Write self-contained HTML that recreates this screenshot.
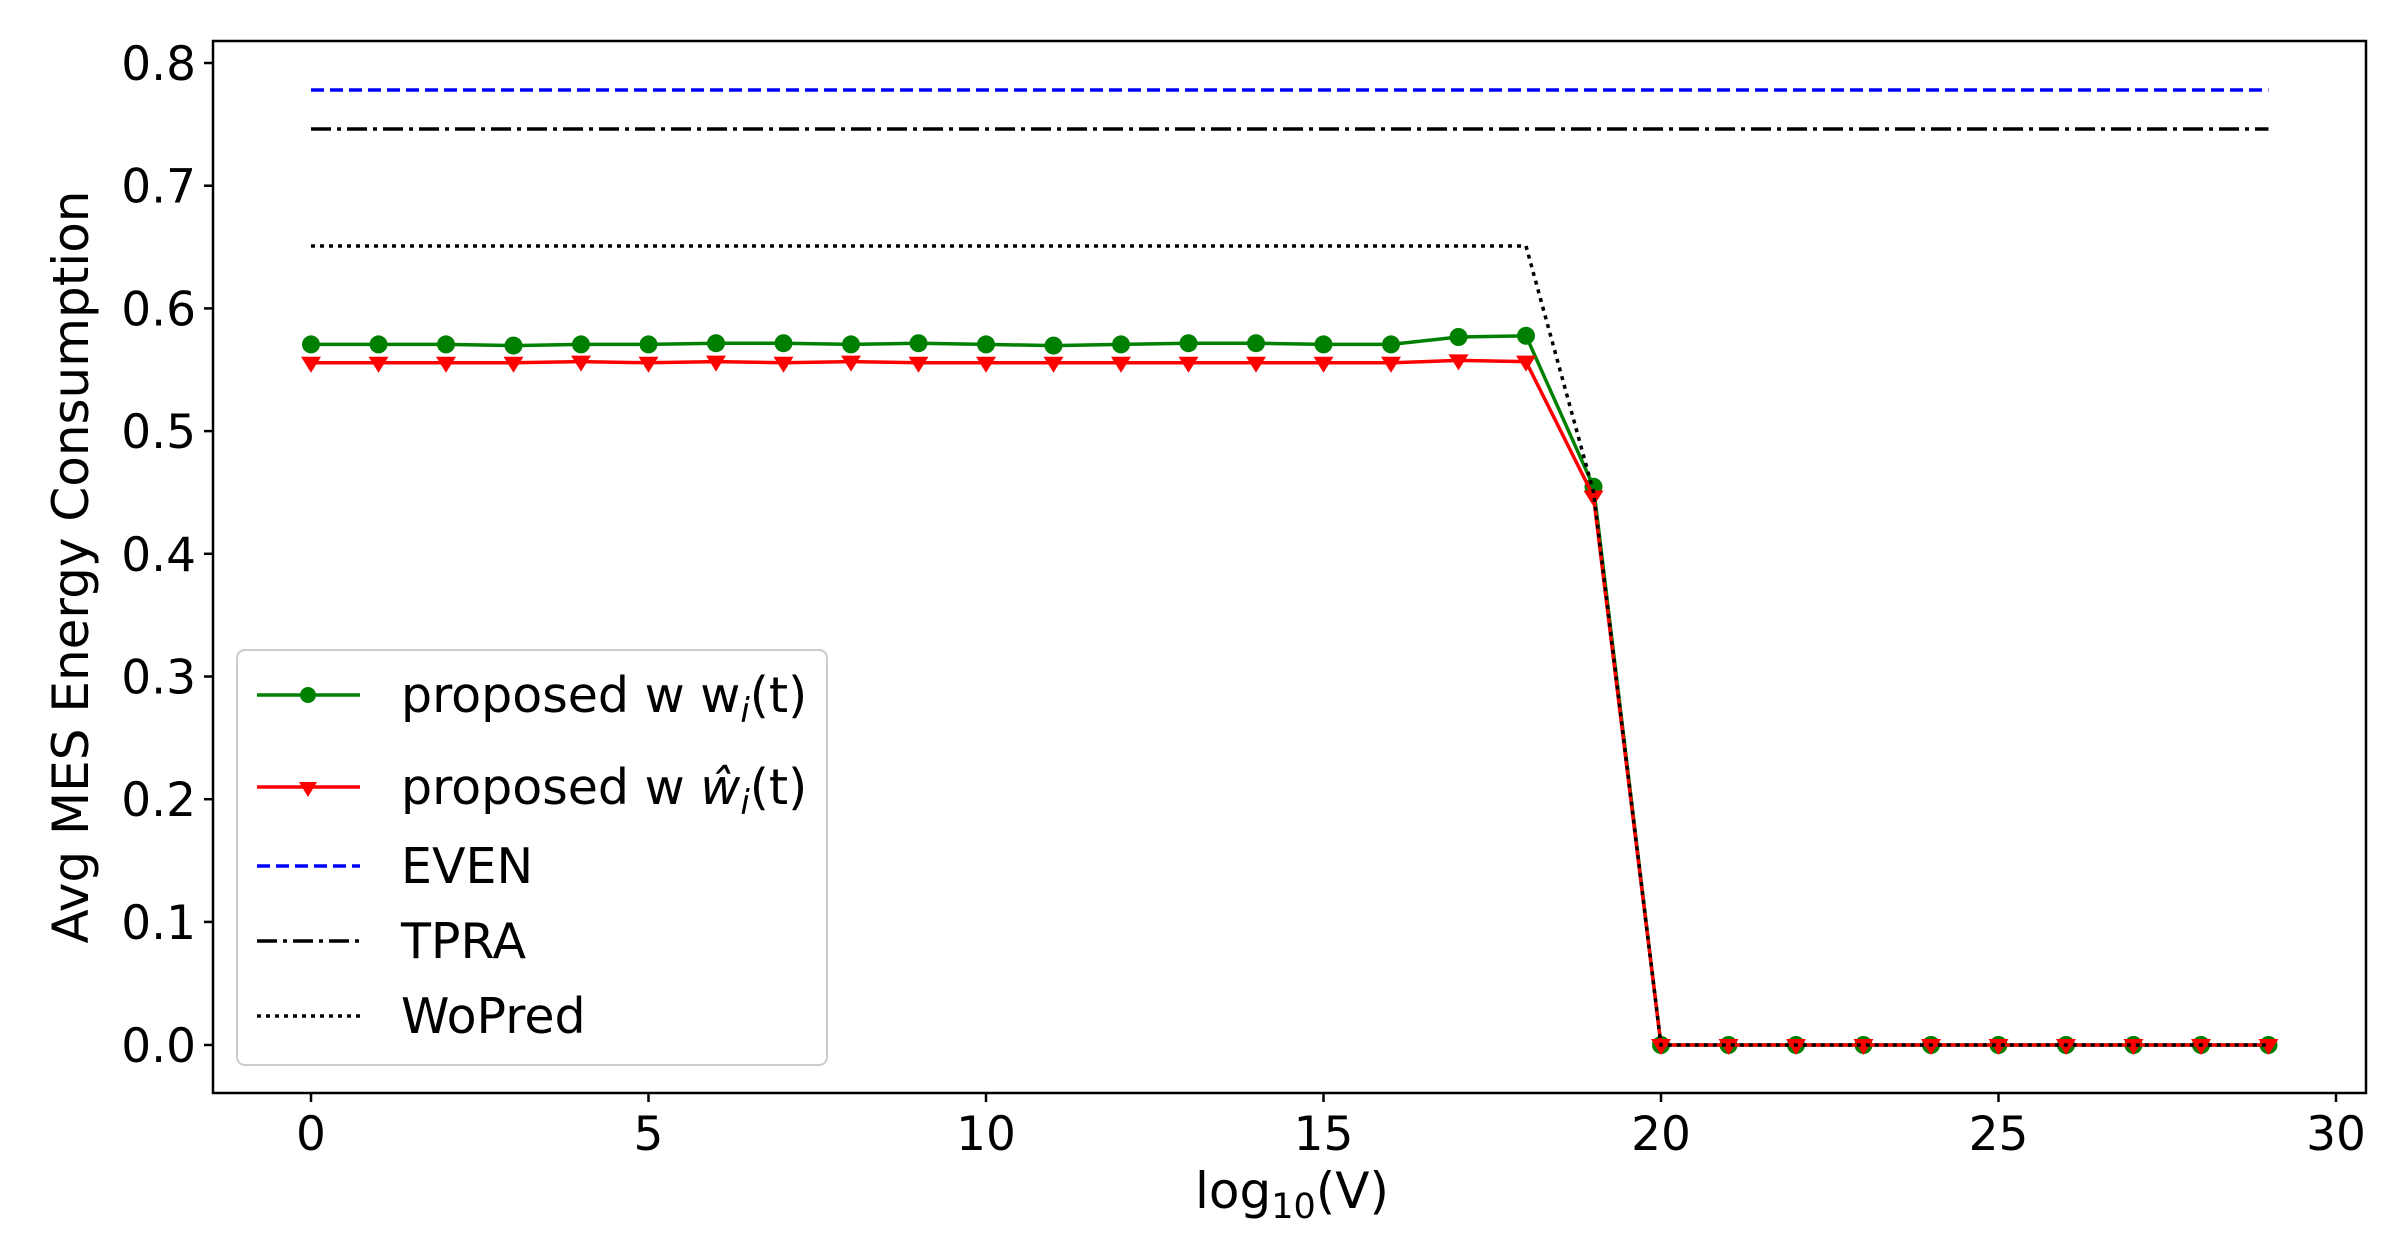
<!DOCTYPE html>
<html><head><meta charset="utf-8"><style>
html,body{margin:0;padding:0;background:#fff;}
svg{display:block;}
text{font-family:"DejaVu Sans","Liberation Sans",sans-serif;fill:#000;}
</style></head><body>
<svg width="2400" height="1258" viewBox="0 0 2400 1258" xmlns="http://www.w3.org/2000/svg">
<defs>
<marker id="mc" markerUnits="userSpaceOnUse" markerWidth="20" markerHeight="20" refX="10" refY="10" orient="0" overflow="visible"><circle cx="10" cy="10" r="9" fill="#008000"/></marker>
<marker id="mt" markerUnits="userSpaceOnUse" markerWidth="20" markerHeight="20" refX="10" refY="10" orient="0" overflow="visible"><polygon points="0,4 20,4 10,20" fill="#ff0000"/></marker>
</defs>
<rect width="2400" height="1258" fill="#fff"/>
<rect x="213" y="41" width="2153" height="1052" fill="none" stroke="#000" stroke-width="2.5"/>
<g stroke="#000" stroke-width="2.5">
<line x1="204" x2="213" y1="63" y2="63"/><line x1="204" x2="213" y1="185.7" y2="185.7"/>
<line x1="204" x2="213" y1="308.4" y2="308.4"/><line x1="204" x2="213" y1="431.1" y2="431.1"/>
<line x1="204" x2="213" y1="553.8" y2="553.8"/><line x1="204" x2="213" y1="676.5" y2="676.5"/>
<line x1="204" x2="213" y1="799.2" y2="799.2"/><line x1="204" x2="213" y1="921.9" y2="921.9"/>
<line x1="204" x2="213" y1="1045" y2="1045"/>
<line x1="311" x2="311" y1="1093" y2="1102"/><line x1="648.5" x2="648.5" y1="1093" y2="1102"/>
<line x1="986" x2="986" y1="1093" y2="1102"/><line x1="1323.5" x2="1323.5" y1="1093" y2="1102"/>
<line x1="1661" x2="1661" y1="1093" y2="1102"/><line x1="1998.5" x2="1998.5" y1="1093" y2="1102"/>
<line x1="2336" x2="2336" y1="1093" y2="1102"/>
</g>
<g font-size="47" text-anchor="end">
<text x="196" y="80">0.8</text><text x="196" y="202.7">0.7</text><text x="196" y="325.4">0.6</text>
<text x="196" y="448.1">0.5</text><text x="196" y="570.8">0.4</text><text x="196" y="693.5">0.3</text>
<text x="196" y="816.2">0.2</text><text x="196" y="938.9">0.1</text><text x="196" y="1062">0.0</text>
</g>
<g font-size="47" text-anchor="middle">
<text x="311" y="1150">0</text><text x="648.5" y="1150">5</text><text x="986" y="1150">10</text>
<text x="1323.5" y="1150">15</text><text x="1661" y="1150">20</text><text x="1998.5" y="1150">25</text>
<text x="2336" y="1150">30</text>
<text x="1292" y="1208" font-size="50">log<tspan font-size="35" dy="10">10</tspan><tspan dy="-10">(V)</tspan></text>
<text transform="translate(88,567) rotate(-90)" font-size="50">Avg MES Energy Consumption</text>
</g>
<polyline fill="none" stroke="#008000" stroke-width="3.5" marker-start="url(#mc)" marker-mid="url(#mc)" marker-end="url(#mc)" points="311,344.4 378.5,344.4 446,344.4 513.5,345.6 581,344.4 648.5,344.4 716,343.2 783.5,343.2 851,344.4 918.5,343.2 986,344.4 1053.5,345.6 1121,344.4 1188.5,343.2 1256,343.2 1323.5,344.4 1391,344.4 1458.5,337 1526,335.8 1593.5,486.7 1661,1045 1728.5,1045 1796,1045 1863.5,1045 1931,1045 1998.5,1045 2066,1045 2133.5,1045 2201,1045 2268.5,1045"/>
<polyline fill="none" stroke="#ff0000" stroke-width="3.5" marker-start="url(#mt)" marker-mid="url(#mt)" marker-end="url(#mt)" points="311,362.8 378.5,362.8 446,362.8 513.5,362.8 581,361.6 648.5,362.8 716,361.6 783.5,362.8 851,361.6 918.5,362.8 986,362.8 1053.5,362.8 1121,362.8 1188.5,362.8 1256,362.8 1323.5,362.8 1391,362.8 1458.5,360.4 1526,361.6 1593.5,496.5 1661,1045 1728.5,1045 1796,1045 1863.5,1045 1931,1045 1998.5,1045 2066,1045 2133.5,1045 2201,1045 2268.5,1045"/>
<line x1="311" x2="2268.5" y1="90" y2="90" stroke="#0000ff" stroke-width="3.5" stroke-dasharray="13,6"/>
<line x1="311" x2="2268.5" y1="129" y2="129" stroke="#000" stroke-width="3.5" stroke-dasharray="20,6,4,6"/>
<polyline fill="none" stroke="#000" stroke-width="3.5" stroke-dasharray="4,5" points="311,246 1526,246 1593.5,492 1661,1045 2268.5,1045"/>
<rect x="237" y="650" width="590" height="415" rx="8" fill="#fff" fill-opacity="0.8" stroke="#cccccc" stroke-width="2"/>
<line x1="257" x2="360" y1="695" y2="695" stroke="#008000" stroke-width="3.5"/>
<circle cx="308" cy="695" r="8" fill="#008000"/>
<line x1="257" x2="360" y1="787" y2="787" stroke="#ff0000" stroke-width="3.5"/>
<polygon points="299,782 317,782 308,797" fill="#ff0000"/>
<line x1="257" x2="360" y1="866" y2="866" stroke="#0000ff" stroke-width="3.5" stroke-dasharray="13,6"/>
<line x1="257" x2="360" y1="941" y2="941" stroke="#000" stroke-width="3.5" stroke-dasharray="20,6,4,6"/>
<line x1="257" x2="360" y1="1016" y2="1016" stroke="#000" stroke-width="3.5" stroke-dasharray="4,5"/>
<g font-size="49">
<text x="401" y="712">proposed w w<tspan font-size="34" dy="10" font-style="italic">i</tspan><tspan dy="-10">(t)</tspan></text>
<text x="401" y="804">proposed w <tspan font-style="italic">ŵ</tspan><tspan font-size="34" dy="10" font-style="italic">i</tspan><tspan dy="-10">(t)</tspan></text>
<text x="401" y="883">EVEN</text>
<text x="401" y="958">TPRA</text>
<text x="401" y="1033">WoPred</text>
</g>
</svg>
</body></html>
